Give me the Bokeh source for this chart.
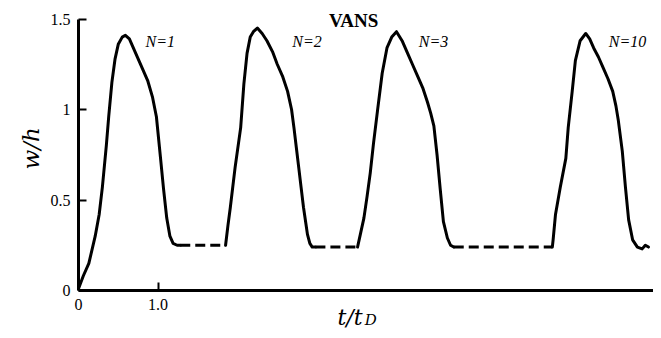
import math
from bokeh.plotting import figure
from bokeh.models import Range1d, FixedTicker, Label, LinearAxis
from bokeh.embed import file_html
from bokeh.resources import INLINE

# ---- data ----
t1 = [0.0, 0.06, 0.13, 0.21, 0.26, 0.30, 0.35, 0.38, 0.42, 0.46, 0.50, 0.55, 0.59, 0.64,
      0.72, 0.80, 0.87, 0.93, 0.98, 1.03, 1.07, 1.11, 1.15, 1.19, 1.24, 1.28]
w1 = [0.01, 0.08, 0.15, 0.30, 0.42, 0.57, 0.80, 0.96, 1.15, 1.28, 1.36, 1.40, 1.41, 1.39,
      1.31, 1.23, 1.16, 1.07, 0.96, 0.74, 0.56, 0.40, 0.30, 0.26, 0.25, 0.25]

t2 = [1.85, 1.88, 1.91, 1.97, 2.04, 2.08, 2.12, 2.16, 2.20, 2.25, 2.31, 2.37, 2.44, 2.50,
      2.57, 2.63, 2.68, 2.71, 2.74, 2.77, 2.80, 2.83, 2.86, 2.88, 2.91, 2.94, 2.98]
w2 = [0.25, 0.36, 0.46, 0.68, 0.90, 1.14, 1.31, 1.40, 1.43, 1.45, 1.42, 1.38, 1.32, 1.25,
      1.18, 1.10, 1.00, 0.90, 0.79, 0.68, 0.57, 0.46, 0.37, 0.31, 0.26, 0.24, 0.24]

t3 = [3.51, 3.55, 3.59, 3.63, 3.67, 3.71, 3.76, 3.82, 3.88, 3.94, 4.00, 4.07, 4.14, 4.20,
      4.26, 4.33, 4.39, 4.43, 4.47, 4.51, 4.55, 4.59, 4.64, 4.68, 4.72]
w3 = [0.24, 0.32, 0.40, 0.52, 0.65, 0.81, 0.99, 1.20, 1.34, 1.40, 1.43, 1.38, 1.31, 1.25,
      1.19, 1.12, 1.04, 0.98, 0.91, 0.75, 0.56, 0.38, 0.29, 0.25, 0.24]

t4 = [5.96, 5.97, 6.00, 6.06, 6.13, 6.16, 6.21, 6.25, 6.31, 6.38, 6.43, 6.48, 6.54, 6.60,
      6.66, 6.72, 6.76, 6.79, 6.84, 6.88, 6.92, 6.97, 7.03, 7.09, 7.13, 7.17]
w4 = [0.24, 0.28, 0.42, 0.57, 0.73, 0.90, 1.10, 1.27, 1.38, 1.42, 1.39, 1.34, 1.29, 1.23,
      1.17, 1.10, 1.02, 0.94, 0.77, 0.57, 0.39, 0.28, 0.24, 0.23, 0.25, 0.24]

pulses_t = [t1, t2, t3, t4]
pulses_w = [w1, w2, w3, w4]
pulse_names = ["N=1", "N=2", "N=3", "N=10"]

x_ticks = [0, 1]
x_tick_labels = ["0", "1.0"]
y_ticks = [0, 0.5, 1, 1.5]
y_tick_labels = ["0", "0.5", "1", "1.5"]

title_text = "VANS"
x_label_main = "t/t"
x_label_sub = "D"
y_label = "w/h"

# ---- figure: the frame fills the canvas, axes drawn at fixed locations ----
W, H = 653, 334
PX_X, PX_Y = 79.5, 181.0     # pixels per data unit
X0_PX, Y0_PX = 78, 290       # where (0, 0) sits on the canvas
x_start, x_end = -X0_PX / PX_X, (W - X0_PX) / PX_X
y_start, y_end = -(H - Y0_PX) / PX_Y, Y0_PX / PX_Y

p = figure(width=W, height=H, x_range=Range1d(x_start, x_end), y_range=Range1d(y_start, y_end),
           output_backend="svg", toolbar_location=None,
           x_axis_location=None, y_axis_location=None,
           min_border_left=0, min_border_right=0, min_border_top=0, min_border_bottom=0)
p.outline_line_color = None
p.grid.visible = False
p.background_fill_color = "white"
p.border_fill_color = "white"

SERIF = "Liberation Serif"

xax = LinearAxis(fixed_location=0)
yax = LinearAxis(fixed_location=0)
for ax, ticks, labels, bounds in ((xax, x_ticks, x_tick_labels, (0, x_end - 0.005)),
                                  (yax, y_ticks, y_tick_labels, (0, 1.5))):
    ax.ticker = FixedTicker(ticks=ticks, minor_ticks=[])
    ax.major_label_overrides = {float(k): v for k, v in zip(ticks, labels)}
    ax.bounds = bounds
    ax.axis_line_width = 3
    ax.axis_line_color = "black"
    ax.major_tick_in = 8
    ax.major_tick_out = 0
    ax.major_tick_line_width = 2
    ax.major_tick_line_color = "black"
    ax.minor_tick_line_color = None
    ax.major_label_text_font = SERIF
    ax.major_label_text_font_size = "16px"
    ax.major_label_text_color = "black"
    ax.major_label_standoff = 8
p.add_layout(xax, "below")
p.add_layout(yax, "left")

# dashed connectors between pulses
for a in range(len(pulses_t) - 1):
    p.line([pulses_t[a][-1], pulses_t[a + 1][0]], [pulses_w[a][-1], pulses_w[a + 1][0]],
           line_color="black", line_width=3, line_dash="10 5")

for tt, ww in zip(pulses_t, pulses_w):
    p.line(tt, ww, line_color="black", line_width=3, line_join="round", line_cap="round")

# pulse labels
label_pos = [(0.843, 1.376), (2.69, 1.376), (4.28, 1.376), (6.67, 1.376)]
for name, (lx, ly) in zip(pulse_names, label_pos):
    p.add_layout(Label(x=lx, y=ly, text=name, text_font=SERIF, text_font_size="16px",
                       text_font_style="italic", text_align="left", text_baseline="alphabetic",
                       text_color="black"))

# title
p.add_layout(Label(x=3.46, y=1.492, text=title_text, text_font=SERIF, text_font_size="19px",
                   text_font_style="bold", text_align="center", text_baseline="alphabetic",
                   text_color="black"))

# axis labels
p.add_layout(Label(x=-0.60, y=0.785, text=y_label, angle=math.pi / 2, text_font="DejaVu Serif",
                   text_font_size="23px", text_font_style="italic", text_align="center",
                   text_baseline="middle", text_color="black"))
p.add_layout(Label(x=3.258, y=-0.149, text=x_label_main, text_font="DejaVu Serif",
                   text_font_size="22px", text_font_style="italic", text_align="left",
                   text_baseline="alphabetic", text_color="black"))
p.add_layout(Label(x=3.60, y=-0.163, text=x_label_sub, text_font="DejaVu Serif",
                   text_font_size="15px", text_font_style="italic", text_align="left",
                   text_baseline="alphabetic", text_color="black"))

open("out.html", "w").write(file_html(p, INLINE))
